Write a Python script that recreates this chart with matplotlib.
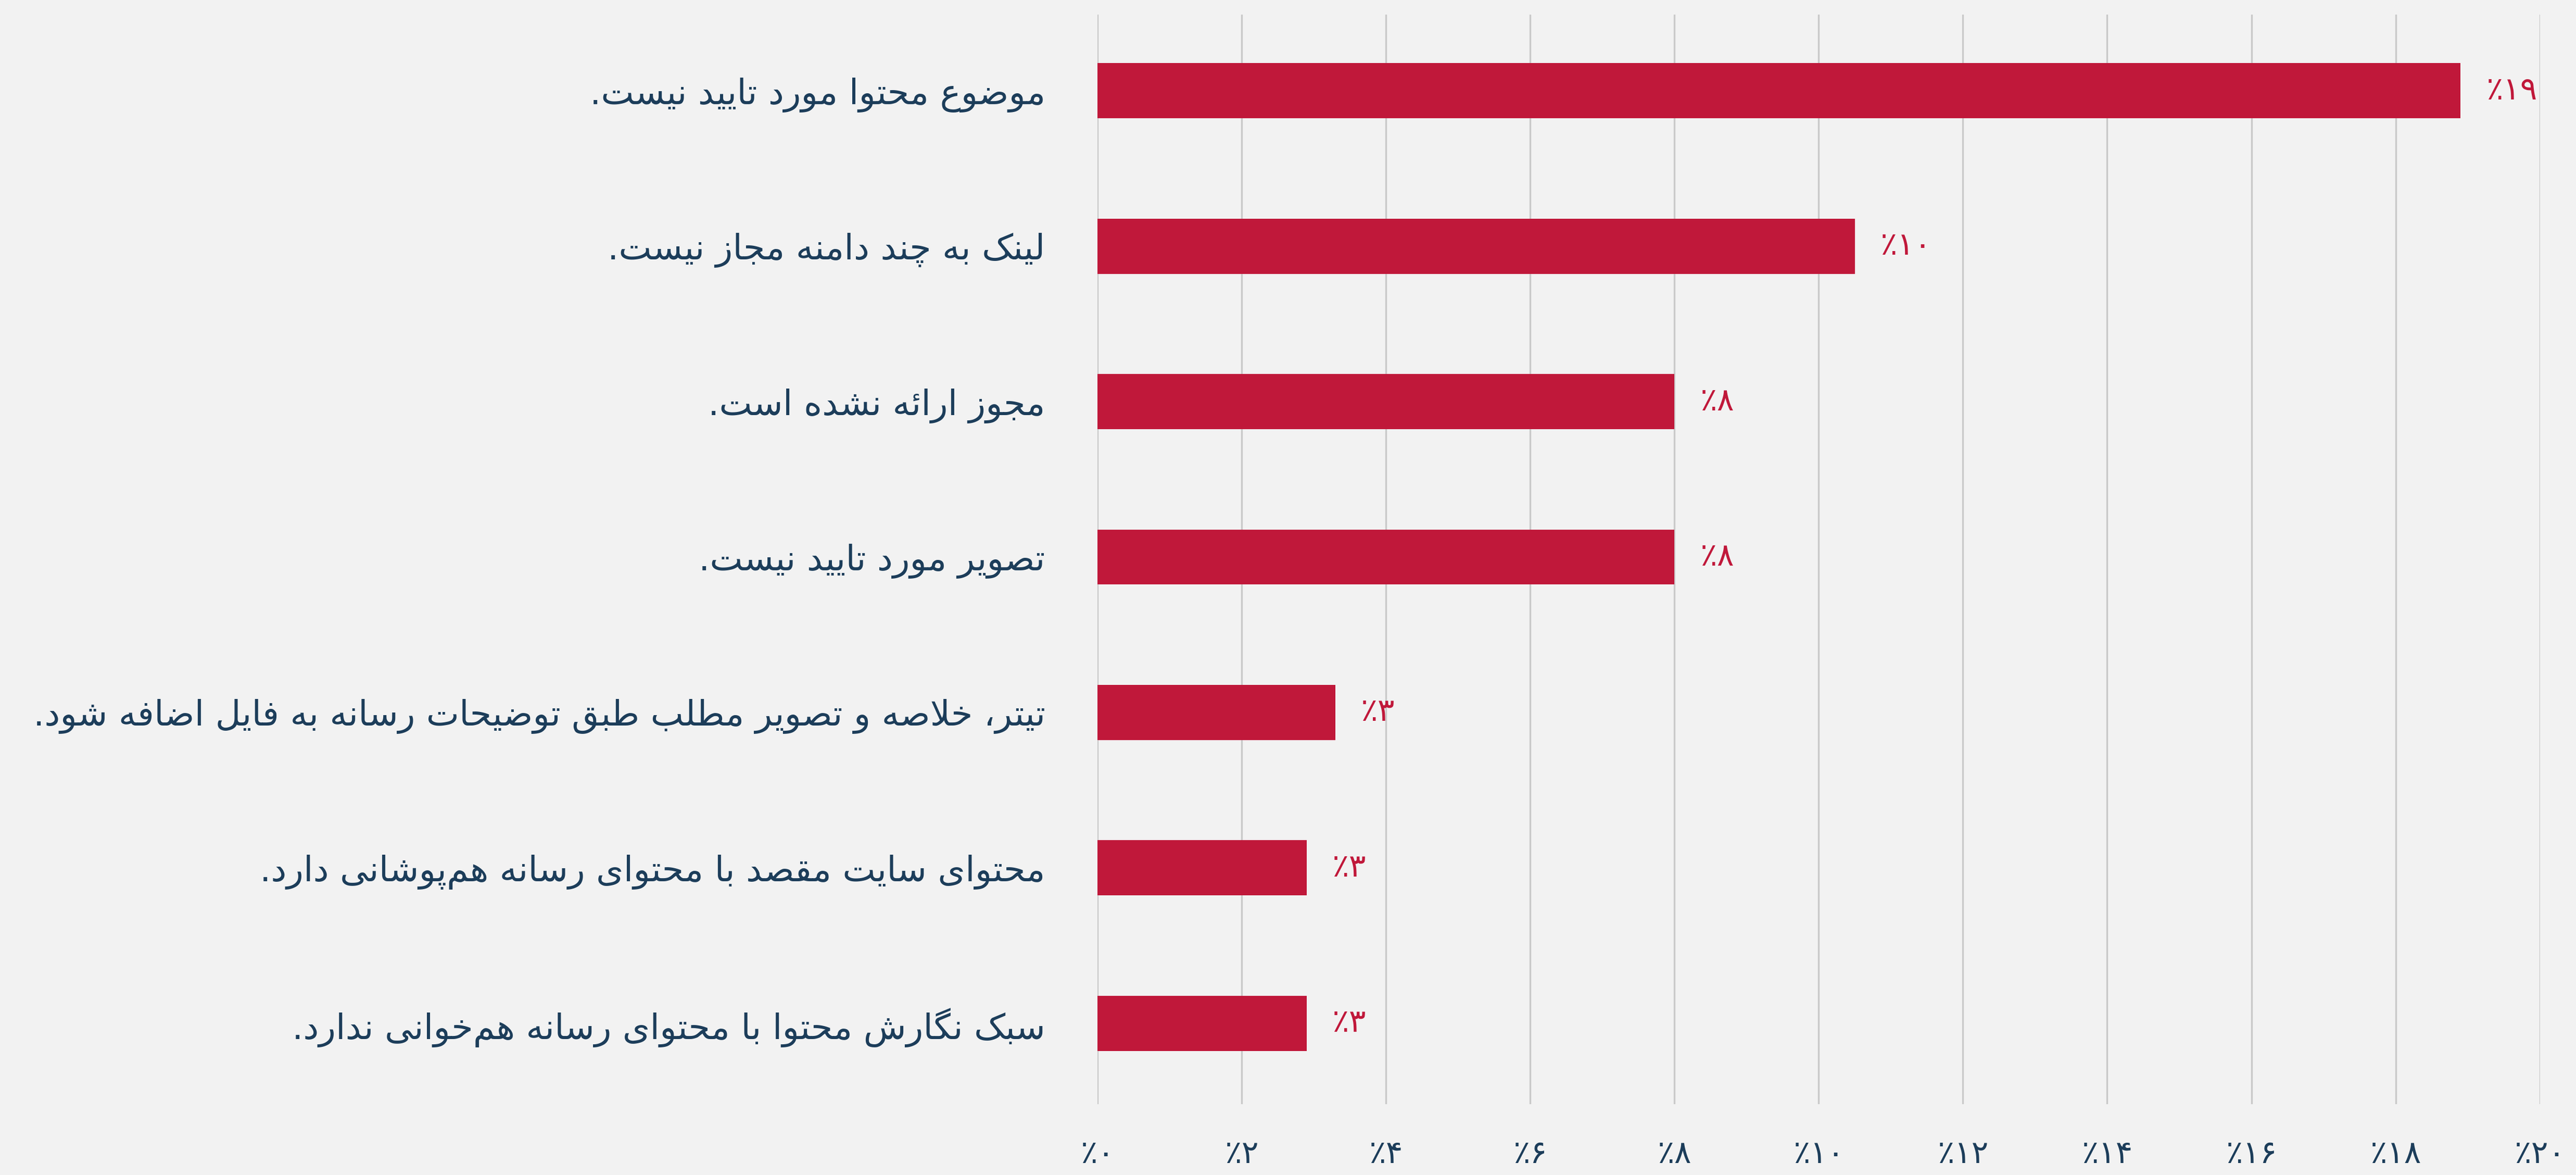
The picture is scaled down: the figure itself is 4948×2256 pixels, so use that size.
import matplotlib
matplotlib.use('Agg')
import matplotlib.pyplot as plt
import numpy as np

# data (top to bottom)
labels = [
    'موضوع محتوا مورد تایید نیست.',
    'لینک به چند دامنه مجاز نیست.',
    'مجوز ارائه نشده است.',
    'تصویر مورد تایید نیست.',
    'تیتر، خلاصه و تصویر مطلب طبق توضیحات رسانه به فایل اضافه شود.',
    'محتوای سایت مقصد با محتوای رسانه هم\u200cپوشانی دارد.',
    'سبک نگارش محتوا با محتوای رسانه هم\u200cخوانی ندارد.',
]
values = [18.9, 10.5, 8.0, 8.0, 3.3, 2.9, 2.9]
value_text = [19, 10, 8, 8, 3, 3, 3]
xticks = [0, 2, 4, 6, 8, 10, 12, 14, 16, 18, 20]

BG = '#f2f2f2'
BAR = '#c0183a'
TXT = '#1c3d5a'
GRID = '#c9c9c9'

# simple arabic/persian shaping: (isolated, final, initial, medial)
FORMS = {
    'ا': (0xFE8D, 0xFE8E), 'آ': (0xFE81, 0xFE82), 'د': (0xFEA9, 0xFEAA),
    'ذ': (0xFEAB, 0xFEAC), 'ر': (0xFEAD, 0xFEAE), 'ز': (0xFEAF, 0xFEB0),
    'و': (0xFEED, 0xFEEE), 'ژ': (0xFB8A, 0xFB8B), 'ة': (0xFE93, 0xFE94),
    'ب': (0xFE8F, 0xFE90, 0xFE91, 0xFE92), 'ت': (0xFE95, 0xFE96, 0xFE97, 0xFE98),
    'ث': (0xFE99, 0xFE9A, 0xFE9B, 0xFE9C), 'ج': (0xFE9D, 0xFE9E, 0xFE9F, 0xFEA0),
    'ح': (0xFEA1, 0xFEA2, 0xFEA3, 0xFEA4), 'خ': (0xFEA5, 0xFEA6, 0xFEA7, 0xFEA8),
    'س': (0xFEB1, 0xFEB2, 0xFEB3, 0xFEB4), 'ش': (0xFEB5, 0xFEB6, 0xFEB7, 0xFEB8),
    'ص': (0xFEB9, 0xFEBA, 0xFEBB, 0xFEBC), 'ض': (0xFEBD, 0xFEBE, 0xFEBF, 0xFEC0),
    'ط': (0xFEC1, 0xFEC2, 0xFEC3, 0xFEC4), 'ظ': (0xFEC5, 0xFEC6, 0xFEC7, 0xFEC8),
    'ع': (0xFEC9, 0xFECA, 0xFECB, 0xFECC), 'غ': (0xFECD, 0xFECE, 0xFECF, 0xFED0),
    'ف': (0xFED1, 0xFED2, 0xFED3, 0xFED4), 'ق': (0xFED5, 0xFED6, 0xFED7, 0xFED8),
    'ل': (0xFEDD, 0xFEDE, 0xFEDF, 0xFEE0), 'م': (0xFEE1, 0xFEE2, 0xFEE3, 0xFEE4),
    'ن': (0xFEE5, 0xFEE6, 0xFEE7, 0xFEE8), 'ه': (0xFEE9, 0xFEEA, 0xFEEB, 0xFEEC),
    'ئ': (0xFE89, 0xFE8A, 0xFE8B, 0xFE8C), 'پ': (0xFB56, 0xFB57, 0xFB58, 0xFB59),
    'چ': (0xFB7A, 0xFB7B, 0xFB7C, 0xFB7D), 'ک': (0xFB8E, 0xFB8F, 0xFB90, 0xFB91),
    'گ': (0xFB92, 0xFB93, 0xFB94, 0xFB95), 'ی': (0xFBFC, 0xFBFD, 0xFBFE, 0xFBFF),
}


def shape(s):
    out = []
    i = 0
    n = len(s)
    while i < n:
        c = s[i]
        if c not in FORMS:
            if c != '\u200c':
                out.append(c)
            i += 1
            continue
        prev = s[i - 1] if i > 0 else ''
        join_prev = prev in FORMS and len(FORMS[prev]) == 4
        # lam-alef ligature
        if c == 'ل' and i + 1 < n and s[i + 1] in ('ا', 'آ'):
            out.append(chr(0xFEFC if join_prev else 0xFEFB))
            i += 2
            continue
        nxt = s[i + 1] if i + 1 < n else ''
        f = FORMS[c]
        join_next = len(f) == 4 and nxt in FORMS
        if join_prev and join_next:
            g = f[3]
        elif join_prev:
            g = f[1]
        elif join_next:
            g = f[2]
        else:
            g = f[0]
        out.append(chr(g))
        i += 1
    return ''.join(out[::-1])


def fa_num(v):
    return '٪' + ''.join('۰۱۲۳۴۵۶۷۸۹'[int(d)] for d in str(v))


plt.rcParams['font.family'] = ['DejaVu Sans']

fig = plt.figure(figsize=(24.74, 11.28), dpi=200, facecolor=BG)
ax = fig.add_axes([0.426, 0.0603, 0.56, 0.9273])
ax.set_facecolor(BG)

y = np.arange(len(labels))
ax.barh(y, values, height=0.355, color=BAR, zorder=3)
ax.set_ylim(len(labels) - 0.48, -0.49)
ax.set_xlim(0, 20)

ax.set_xticks(xticks)
ax.set_xticklabels([fa_num(t) for t in xticks], color=TXT, fontsize=22)
ax.tick_params(axis='x', length=0, pad=24)
ax.set_yticks(y)
ax.set_yticklabels([shape(l) for l in labels], color=TXT, fontsize=24.2)
ax.tick_params(axis='y', length=0, pad=36)
ax.grid(axis='x', color=GRID, linewidth=1.2, zorder=0)
for sp in ax.spines.values():
    sp.set_visible(False)

for yi, v, t in zip(y, values, value_text):
    ax.text(v + 0.35, yi, fa_num(t), color=BAR, fontsize=22, va='center', ha='left')

fig.savefig('out.png', dpi=200, facecolor=BG)
